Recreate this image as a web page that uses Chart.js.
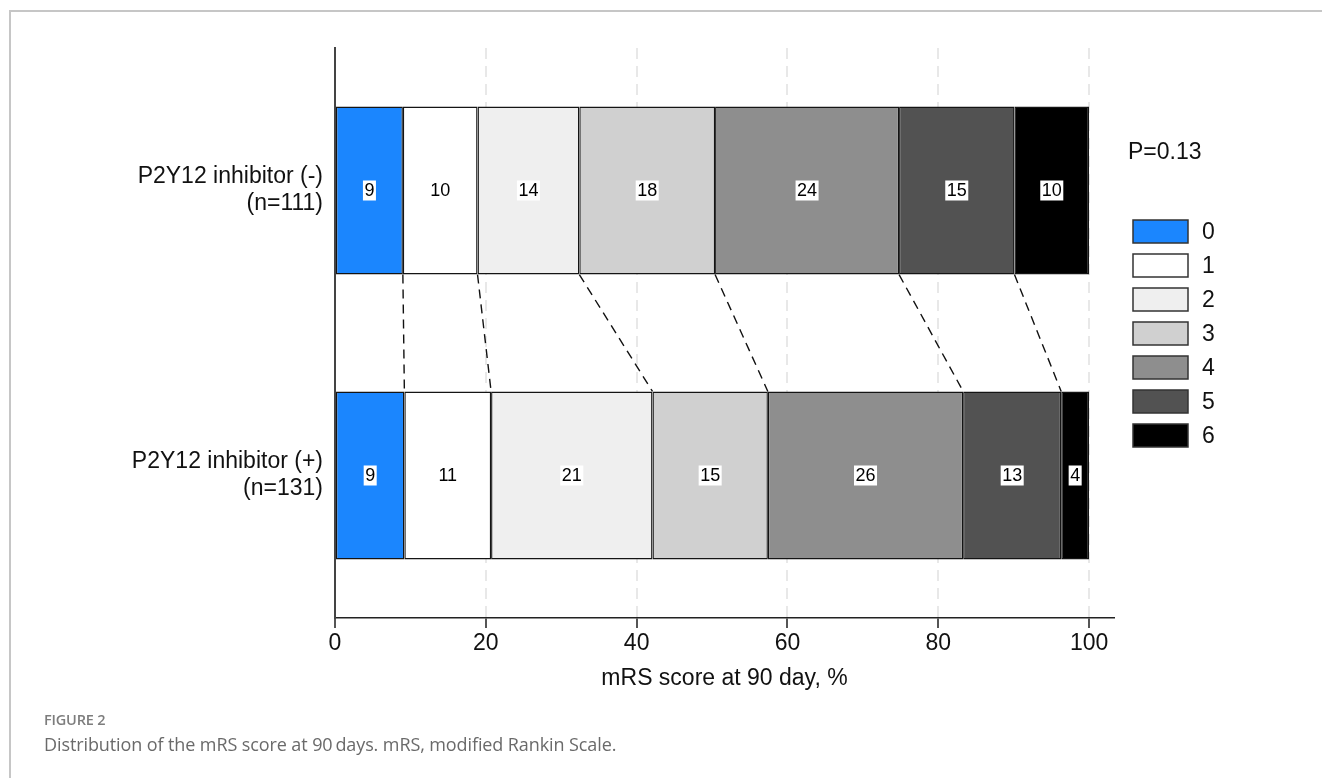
<!DOCTYPE html>
<html>
<head>
<meta charset="utf-8">
<script src="https://cdn.jsdelivr.net/npm/chart.js@4.4.3/dist/chart.umd.min.js"></script>
<style>
  html, body { margin: 0; padding: 0; background: #fff; overflow: hidden; }
  #wrap { position: relative; width: 1322px; height: 778px; }
  #frame {
    position: absolute; left: 9px; top: 10px; width: 1400px; height: 900px;
    border-left: 2px solid #c6c6c6; border-top: 2px solid #c6c6c6;
  }
  #chart { position: absolute; left: 0; top: 0; }
  .fig-no {
    position: absolute; left: 44px; top: 710px;
    font-family: "Open Sans", sans-serif; font-weight: 600; font-size: 14.5px;
    color: #7d7d7d; letter-spacing: -0.2px;
  }
  .fig-cap {
    position: absolute; left: 44px; top: 732px;
    font-family: "Open Sans", sans-serif; font-weight: 400; font-size: 18px;
    color: #6a6a6a; letter-spacing: -0.1px;
  }
</style>
</head>
<body>
<div id="wrap">
  <div id="frame"></div>
  <canvas id="chart" width="1322" height="778"></canvas>
  <div class="fig-no">FIGURE 2</div>
  <div class="fig-cap">Distribution of the mRS score at 90&#8201;days. mRS, modified Rankin Scale.</div>
</div>
<script>
// -----------------------------
// mRS distribution data
// -----------------------------

const groupLabels = [
    ["P2Y12 inhibitor (-)", "(n=111)"],
    ["P2Y12 inhibitor (+)", "(n=131)"]
];
const mrsLevels = ["0", "1", "2", "3", "4", "5", "6"];

// share of patients per mRS level, %
const pctWithout = [9.0, 9.9, 13.5, 18.0, 24.4, 15.3, 9.9];
const pctWith = [9.2, 11.5, 21.4, 15.3, 25.9, 13.0, 3.7];

// numbers printed in the bars
const shownWithout = [9, 10, 14, 18, 24, 15, 10];
const shownWith = [9, 11, 21, 15, 26, 13, 4];

const xTicks = [0, 20, 40, 60, 80, 100];
const pValueText = "P=0.13";

const levelColors = ["#1b86fe", "#ffffff", "#efefef", "#d0d0d0", "#8e8e8e", "#525252", "#000000"];

const FONT = "\"Liberation Sans\", Arial, Helvetica, sans-serif";
Chart.defaults.font.family = FONT;
Chart.defaults.color = "#111";

// number boxes on each segment
const segmentLabelsPlugin = {
    id: "segmentLabels",
    afterDatasetsDraw(chart) {
        const ctx = chart.ctx;
        const shown = [shownWithout, shownWith];
        ctx.save();
        ctx.font = "18px " + FONT;
        ctx.textAlign = "center";
        ctx.textBaseline = "middle";
        chart.data.datasets.forEach((ds, i) => {
            const meta = chart.getDatasetMeta(i);
            meta.data.forEach((bar, row) => {
                const text = String(shown[row][i]);
                const cx = (bar.x + bar.base) / 2;
                const cy = bar.y;
                const w = ctx.measureText(text).width + 3;
                ctx.fillStyle = "#fff";
                ctx.fillRect(cx - w / 2, cy - 10, w, 20);
                ctx.fillStyle = "#000";
                ctx.fillText(text, cx, cy + 1);
            });
        });
        ctx.restore();
    }
};

// dashed lines joining the segment edges of both bars
const connectorPlugin = {
    id: "connectors",
    afterDatasetsDraw(chart) {
        const ctx = chart.ctx;
        ctx.save();
        ctx.strokeStyle = "#111";
        ctx.lineWidth = 1.4;
        ctx.setLineDash([9, 6]);
        for (let i = 0; i < chart.data.datasets.length - 1; i++) {
            const meta = chart.getDatasetMeta(i);
            const top = meta.data[0];
            const bottom = meta.data[1];
            ctx.beginPath();
            ctx.moveTo(top.x, top.y + top.height / 2);
            ctx.lineTo(bottom.x, bottom.y - bottom.height / 2);
            ctx.stroke();
        }
        ctx.restore();
    }
};

// P value and colour key on the right
const keyPlugin = {
    id: "colourKey",
    afterDraw(chart) {
        const ctx = chart.ctx;
        const left = chart.chartArea.right + 19;
        ctx.save();
        ctx.font = "23px " + FONT;
        ctx.fillStyle = "#111";
        ctx.textBaseline = "middle";
        ctx.textAlign = "left";
        ctx.fillText(pValueText, left - 5, 153);

        mrsLevels.forEach((level, i) => {
            const y = 220 + i * 34;
            ctx.fillStyle = levelColors[i];
            ctx.fillRect(left, y, 55, 23);
            ctx.strokeStyle = "#333";
            ctx.lineWidth = 1.5;
            ctx.strokeRect(left, y, 55, 23);
            ctx.fillStyle = "#111";
            ctx.fillText(level, left + 69, y + 13);
        });
        ctx.restore();
    }
};

const datasets = mrsLevels.map((level, i) => ({
    label: level,
    data: [pctWithout[i], pctWith[i]],
    backgroundColor: levelColors[i],
    borderColor: "#141414",
    borderWidth: { left: 1.4, right: 1.4, top: 1.5, bottom: 1.5 },
    borderSkipped: false,
    barPercentage: 0.59,
    categoryPercentage: 1
}));

new Chart(document.getElementById("chart"), {
    type: "bar",
    data: { labels: groupLabels, datasets },
    plugins: [segmentLabelsPlugin, connectorPlugin, keyPlugin],
    options: {
        indexAxis: "y",
        responsive: false,
        animation: false,
        layout: { padding: { top: 48, right: 208, left: 0, bottom: 86 } },
        plugins: {
            legend: { display: false },
            tooltip: { enabled: false }
        },
        scales: {
            x: {
                type: "linear",
                stacked: true,
                min: 0,
                max: 103.3,
                afterBuildTicks: scale => {
                    scale.ticks = xTicks.map(v => ({ value: v }));
                },
                afterFit: scale => { scale.height = 74; },
                ticks: {
                    font: { size: 23 },
                    color: "#111",
                    padding: 2,
                    maxRotation: 0
                },
                grid: {
                    color: "#e8e8e8",
                    lineWidth: 2,
                    tickLength: 10,
                    tickColor: "#555",
                    tickWidth: 2,
                    tickBorderDash: []
                },
                border: { color: "#222", width: 1.5, dash: [11, 7] },
                title: {
                    display: true,
                    text: "mRS score at 90 day, %",
                    font: { size: 23 },
                    color: "#111",
                    padding: { top: 0, bottom: 0 }
                }
            },
            y: {
                type: "category",
                stacked: true,
                offset: true,
                afterFit: scale => { scale.width = 335; },
                ticks: {
                    font: { size: 23, lineHeight: 1.18 },
                    color: "#111",
                    padding: 12
                },
                grid: { display: false, drawTicks: false },
                border: { color: "#444", width: 2 }
            }
        }
    }
});
</script>
</body>
</html>
